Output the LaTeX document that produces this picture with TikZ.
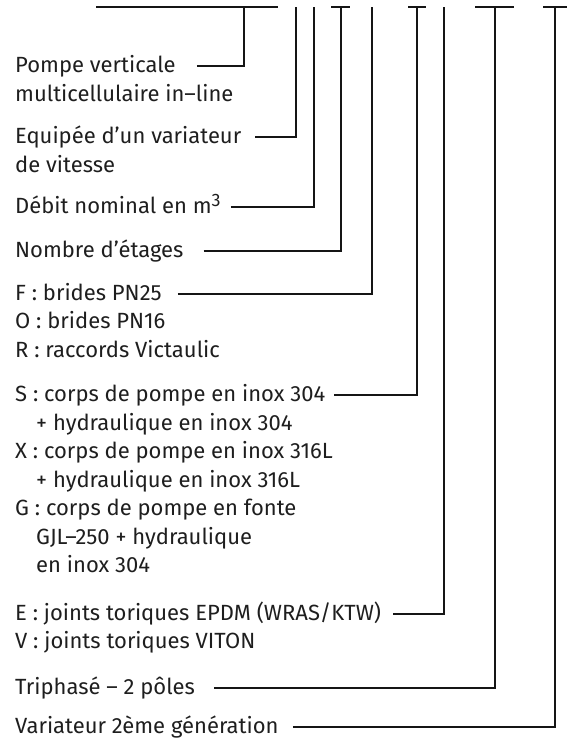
\documentclass[tikz,border=0pt]{standalone}
\usepackage{fontspec}
\setmainfont{Fira Sans}
\definecolor{txt}{HTML}{1E1E1E}
\definecolor{ln}{HTML}{151515}
\newcommand{\supthree}{\raisebox{7bp}{\fontsize{18bp}{18bp}\selectfont 3}}
\begin{document}
\begin{tikzpicture}[x=1bp,y=-1bp,
  lbl/.style={anchor=base west, inner sep=0pt, text height=18bp, text depth=5bp,
    font=\fontsize{22bp}{28.5bp}\selectfont, text=txt},
  conn/.style={line width=2bp, ln}]
\useasboundingbox (0,0) rectangle (576,740);
% top code marks
\coordinate (t1) at (244,7.5);
\coordinate (t2) at (296,7.5);
\coordinate (t3) at (314,7.5);
\coordinate (t4) at (341,7.5);
\coordinate (t5) at (372,7.5);
\coordinate (t6) at (417,7.5);
\coordinate (t7) at (444,7.5);
\coordinate (t8) at (495,7.5);
\coordinate (t9) at (555,7.5);
\coordinate (b1a) at (96,7.5);  \coordinate (b1b) at (278,7.5);
\coordinate (b4a) at (331,7.5); \coordinate (b4b) at (350,7.5);
\coordinate (b6a) at (408,7.5); \coordinate (b6b) at (426,7.5);
\coordinate (b8a) at (475,7.5); \coordinate (b8b) at (514,7.5);
\coordinate (b9a) at (543,7.5); \coordinate (b9b) at (567,7.5);
\draw[conn] (b1a) -- (b1b);
\draw[conn] (b4a) -- (b4b);
\draw[conn] (b6a) -- (b6b);
\draw[conn] (b8a) -- (b8b);
\draw[conn] (b9a) -- (b9b);
% labels
\node[lbl] (l1) at (15,72.5) {Pompe verticale};
\node[lbl] (l1b) at (15,101) {multicellulaire in–line};
\node[lbl] (l2) at (15,143.5) {Equipée d’un variateur};
\node[lbl] (l2b) at (15,172) {de vitesse};
\node[lbl] (l3) at (15,213) {Débit nominal en m\supthree};
\node[lbl] (l4) at (15,257) {Nombre d’étages};
\node[lbl] (l5) at (15,300) {F : brides PN25};
\node[lbl] (l5b) at (15,328.5) {O : brides PN16};
\node[lbl] (l5c) at (15,357) {R : raccords Victaulic};
\node[lbl] (l6) at (15,401.5) {S : corps de pompe en inox 304};
\node[lbl] (l6b) at (36,430) {+ hydraulique en inox 304};
\node[lbl] (l6c) at (15,458.5) {X : corps de pompe en inox 316L};
\node[lbl] (l6d) at (36,487) {+ hydraulique en inox 316L};
\node[lbl] (l6e) at (15,515.5) {G : corps de pompe en fonte};
\node[lbl] (l6f) at (36,544) {GJL–250 + hydraulique};
\node[lbl] (l6g) at (36,572.5) {en inox 304};
\node[lbl] (l7) at (15,620) {E : joints toriques EPDM (WRAS/KTW)};
\node[lbl] (l7b) at (15,648.5) {V : joints toriques VITON};
\node[lbl] (l8) at (15,694.5) {Triphasé – 2 pôles};
\node[lbl] (l9) at (15,733.5) {Variateur 2ème génération};
% connectors
\draw[conn] ([xshift=21bp]l1.east) -| (t1);
\draw[conn] ([xshift=14bp]l2.east) -| (t2);
\draw[conn] ([xshift=10bp]l3.east) -| (t3);
\draw[conn] ([xshift=20bp]l4.east) -| (t4);
\draw[conn] ([xshift=16bp]l5.east) -| (t5);
\draw[conn] ([xshift=9bp]l6.east) -| (t6);
\draw[conn] ([xshift=12bp]l7.east) -| (t7);
\draw[conn] ([xshift=19bp]l8.east) -| (t8);
\draw[conn] ([xshift=14bp]l9.east) -| (t9);
\end{tikzpicture}
\end{document}
